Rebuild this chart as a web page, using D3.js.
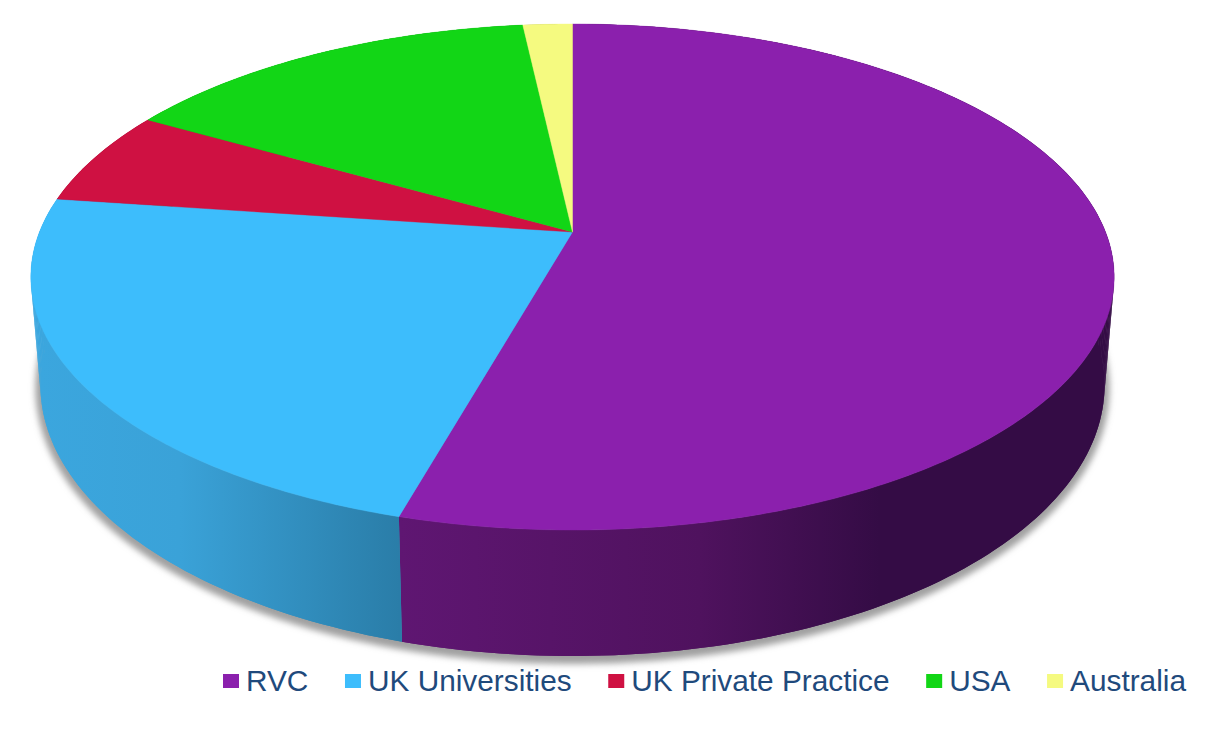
<!DOCTYPE html>
<html><head><meta charset="utf-8">
<script src="https://cdn.jsdelivr.net/npm/d3@7"></script>
<style>html,body{margin:0;padding:0;background:#fff;overflow:hidden}svg{display:block}</style>
</head><body><svg id="c" width="1230" height="742"></svg>
<script>
const categories = ["RVC","UK Universities","UK Private Practice","USA","Australia"];
const shares = [54.35,22.85,6.1,14.95,1.75];
const topColors = ["#8b20ad","#3dbdfc","#cf1142","#12d616","#f5fa80"];
const wallStops = [
  [[400,"#5f1672"],[700,"#4f125e"],[880,"#340c45"]],
  [[40,"#3ba6de"],[180,"#3aa2d8"],[400,"#2a7da8"]],
  [[40,"#a00d33"],[400,"#a00d33"]],
  [[40,"#0ea511"],[400,"#0ea511"]],
  [[40,"#c0c464"],[400,"#c0c464"]]
];

const svg = d3.select("#c");
const defs = svg.append("defs");
const tilt = 0.1779;
const topFace = {cx:572.5, cy:232, a:533, b:245};
const baseFace = {cx:572.5, cy:336.8, a:523.6, b:262.4};
const project = (f, t) => {
  const u = Math.sin(t), v = -Math.cos(t), w = 1 - tilt*v;
  return [f.cx + f.a*u/w, f.cy + f.b*v/w];
};
const line = d3.line();
const sweep = (s,e,step) => { const n = Math.max(4, Math.ceil((e-s)/step)); return d3.range(n+1).map(i => s+(e-s)*i/n); };
const arcs = d3.pie().sort(null).startAngle(0).endAngle(2*Math.PI)(shares);

const blur = defs.append("filter").attr("id","soft").attr("x","-5%").attr("y","-5%").attr("width","110%").attr("height","110%");
blur.append("feGaussianBlur").attr("stdDeviation",3);

// cast shadow under the base
svg.append("path")
  .attr("d", line(sweep(0,2*Math.PI,0.01).map(t => project(baseFace,t))) + "Z")
  .attr("transform","translate(0,3)")
  .attr("fill","#a0a0a0").attr("stroke","#a0a0a0").attr("stroke-width",10)
  .attr("filter","url(#soft)");

// side walls, drawn as thin quads so the silhouette follows the tangent from top rim to base rim
arcs.forEach((d,i) => {
  const g = defs.append("linearGradient").attr("id","wall"+i)
    .attr("gradientUnits","userSpaceOnUse")
    .attr("x1",wallStops[i][0][0]).attr("x2",wallStops[i][wallStops[i].length-1][0]).attr("y1",0).attr("y2",0);
  const x0 = wallStops[i][0][0], x1 = wallStops[i][wallStops[i].length-1][0];
  wallStops[i].forEach(s => g.append("stop").attr("offset",(s[0]-x0)/(x1-x0)).attr("stop-color",s[1]));
  const ts = sweep(d.startAngle,d.endAngle,0.02);
  const wall = svg.append("g").attr("fill","url(#wall"+i+")");
  d3.pairs(ts).forEach(([a,b]) => {
    const pts = [project(topFace,a),project(topFace,b),project(baseFace,b),project(baseFace,a)];
    wall.append("path").attr("d",line(pts)+"Z");
  });
  // solid body so no hairline seams remain between the quads
  const body = ts.map(t => project(topFace,t)).concat(ts.slice().reverse().map(t => project(baseFace,t)));
  wall.append("path").attr("d",line(body)+"Z");
});

// top faces
arcs.forEach((d,i) => {
  const pts = [[topFace.cx,topFace.cy]].concat(sweep(d.startAngle,d.endAngle,0.01).map(t => project(topFace,t)));
  svg.append("path").attr("d",line(pts)+"Z").attr("fill",topColors[i])
    .attr("stroke",topColors[i]).attr("stroke-width",0.4);
});

// legend
const legend = svg.append("g").attr("font-family","'Liberation Sans',Arial,sans-serif").attr("font-size",29.8).attr("fill","#1f4a7c");
let x = 223;
categories.forEach((c,i) => {
  legend.append("rect").attr("x",x).attr("y",674).attr("width",16).attr("height",14).attr("fill",topColors[i]);
  const t = legend.append("text").attr("x",x+23).attr("y",690.5).text(c);
  x += 23 + t.node().getComputedTextLength() + 36.6;
});
</script></body></html>
